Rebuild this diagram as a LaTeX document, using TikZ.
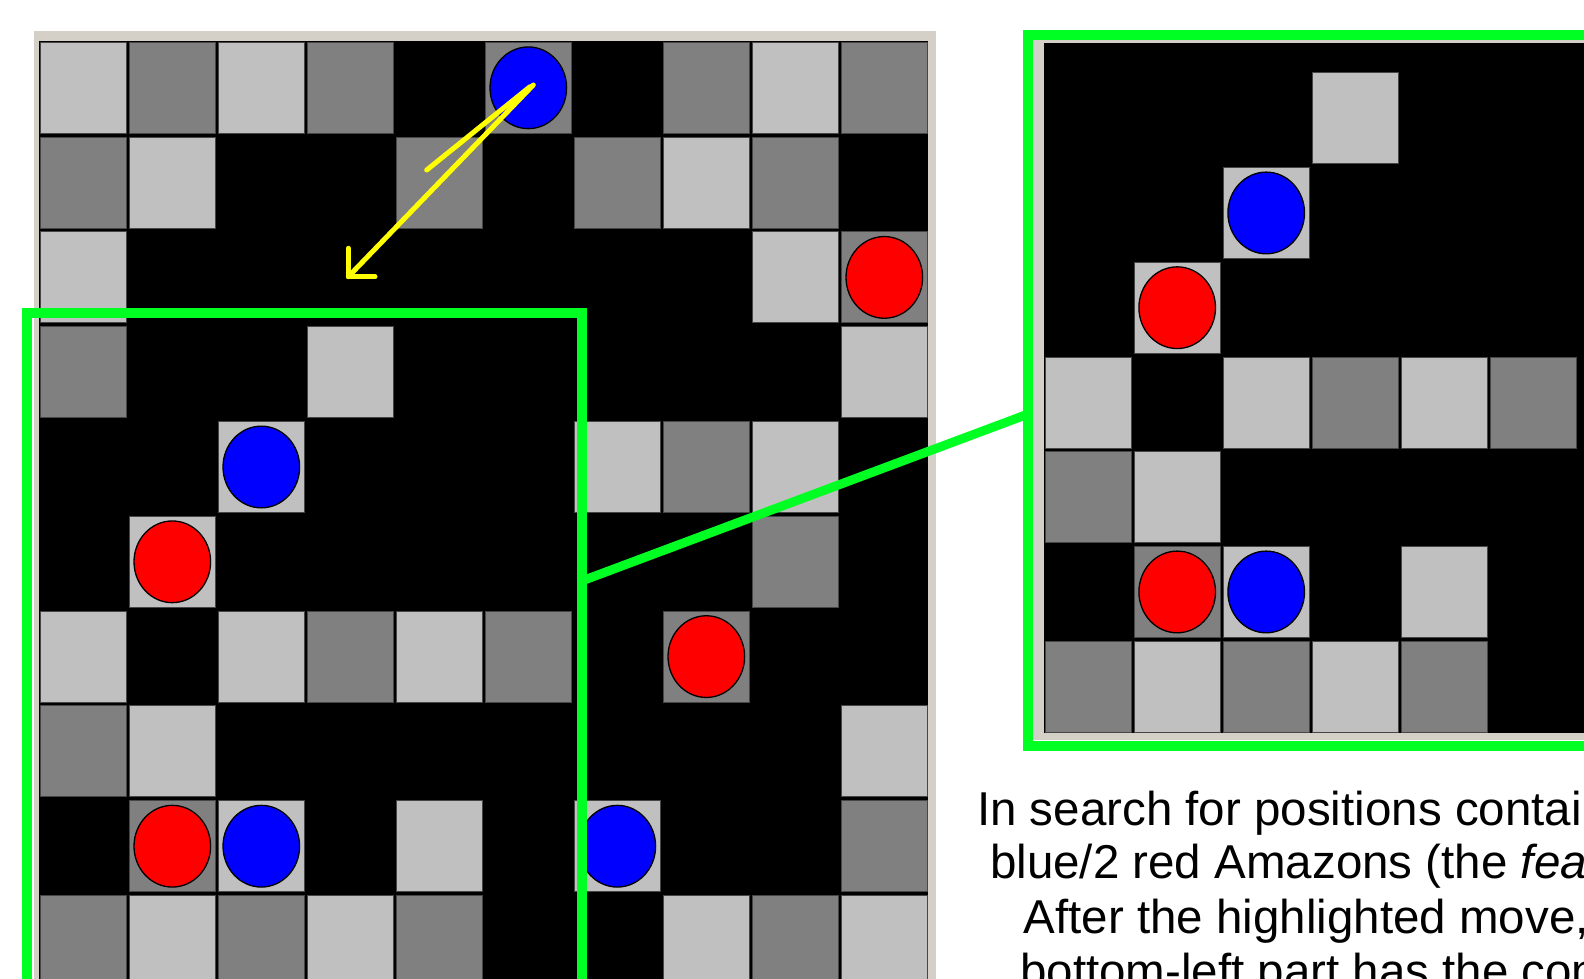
\documentclass[tikz,border=0pt]{standalone}
\usepackage{fontspec}
\setmainfont{Liberation Sans}
\usetikzlibrary{shapes.geometric}
\definecolor{lightsq}{RGB}{192,192,192}
\definecolor{darksq}{RGB}{128,128,128}
\definecolor{boardframe}{RGB}{212,208,200}
\definecolor{hlgreen}{RGB}{0,255,34}
\definecolor{mvyellow}{RGB}{255,255,0}
\definecolor{sqedge}{RGB}{70,70,70}
\definecolor{ambblue}{RGB}{0,0,255}
\definecolor{ambred}{RGB}{255,0,0}
\newcommand{\captionsize}{\fontsize{47.5}{54}\selectfont}
\begin{document}
\begin{tikzpicture}[x=1pt,y=-1pt,
  lcell/.style={fill=lightsq,draw=sqedge,line width=0.9pt},
  dcell/.style={fill=darksq,draw=sqedge,line width=0.9pt},
  piece/.style={ellipse,draw=black,line width=1.3pt,minimum width=76.6pt,minimum height=81.7pt,inner sep=0pt,outer sep=0pt},
  bluepiece/.style={piece,fill=ambblue},
  redpiece/.style={piece,fill=ambred},
  greenbox/.style={draw=hlgreen,line width=10pt},
  moveline/.style={draw=mvyellow,line width=5pt,line cap=round,line join=round},
  caption/.style={anchor=base west,inner sep=0pt,font=\captionsize,text=black}
]
\useasboundingbox (0,0) rectangle (1584,979);
\fill[white] (0,0) rectangle (1584,979);
\clip (0,0) rectangle (1584,979);

% ---------------- left board ----------------
\fill[boardframe] (34.4,31) rectangle (935.7,1000);
\fill[black] (39.4,41) rectangle (928.3,1000);
\foreach \c/\r in {0/0,2/0,8/0, 1/1,7/1, 0/2,8/2, 3/3,9/3, 2/4,6/4,8/4, 1/5,
                   0/6,2/6,4/6, 1/7,9/7, 2/8,4/8,6/8, 1/9,3/9,7/9,9/9}
  \draw[lcell] ({40.5+89*\c},{42.3+94.8*\r}) rectangle +(85.6,91);
\foreach \c/\r in {1/0,3/0,5/0,7/0,9/0, 0/1,4/1,6/1,8/1, 9/2, 0/3, 7/4, 8/5,
                   3/6,5/6,7/6, 0/7, 1/8,9/8, 0/9,2/9,4/9,8/9}
  \draw[dcell] ({40.5+89*\c},{42.3+94.8*\r}) rectangle +(85.6,91);

\node[bluepiece] (b1) at (528.3,87.8) {};
\node[redpiece]  (r1) at (884.3,277.4) {};
\node[bluepiece] (b2) at (261.3,467.0) {};
\node[redpiece]  (r2) at (172.3,561.8) {};
\node[redpiece]  (r3) at (706.3,656.6) {};
\node[redpiece]  (r4) at (172.3,846.2) {};
\node[bluepiece] (b3) at (261.3,846.2) {};
\node[bluepiece] (b4) at (617.3,846.2) {};

% ---------------- move arrow ----------------
\coordinate (mvstart) at (533.3,85);
\coordinate (mvstartb) at (530,86.7);
\coordinate (mvmid) at (426.7,170);
\coordinate (mvtip) at (348.3,276.7);
\coordinate (mvarmup) at (348.3,248.3);
\coordinate (mvarmright) at (375,276.7);
\draw[moveline] (mvstartb) -- (mvmid);
\draw[moveline] (mvstart) -- (mvtip);
\draw[moveline] (mvarmup) -- (mvtip) -- (mvarmright);

% ---------------- inset board ----------------
\fill[boardframe] (1033.2,39.7) rectangle (1600,740);
\fill[black] (1044,43.3) rectangle (1600,732.8);
\foreach \c/\r in {3/0, 2/1, 1/2, 0/3,2/3,4/3, 1/4, 2/5,4/5, 1/6,3/6}
  \draw[lcell] ({1045.4+89*\c},{72.7+94.75*\r}) rectangle +(85.6,91);
\foreach \c/\r in {3/3,5/3, 0/4, 1/5, 0/6,2/6,4/6}
  \draw[dcell] ({1045.4+89*\c},{72.7+94.75*\r}) rectangle +(85.6,91);
\node[bluepiece] (ib1) at (1266.2,212.95) {};
\node[redpiece]  (ir1) at (1177.2,307.7) {};
\node[redpiece]  (ir2) at (1177.2,591.95) {};
\node[bluepiece] (ib2) at (1266.2,591.95) {};

% ---------------- green highlight boxes ----------------
\draw[greenbox] (27.4,1010) -- (27.4,313) -- (581.7,313) -- (581.7,1010);
\draw[greenbox] (1600,745.5) -- (1028.2,745.5) -- (1028.2,34.7) -- (1600,34.7);
\coordinate (zoomfrom) at (581.7,581);
\coordinate (zoomto) at (1028.2,414);
\draw[greenbox,line width=9pt] (zoomfrom) -- (zoomto);

% ---------------- caption ----------------
\node[caption] (t1) at (977,825) {In search for positions contai};
\node[caption] (t2) at (990,878.3) {blue/2 red Amazons (the \textit{fea}};
\node[caption] (t3) at (1023.5,933) {After the highlighted move,};
\node[caption] (t4) at (1020,987) {bottom-left part has the con};
\end{tikzpicture}
\end{document}
